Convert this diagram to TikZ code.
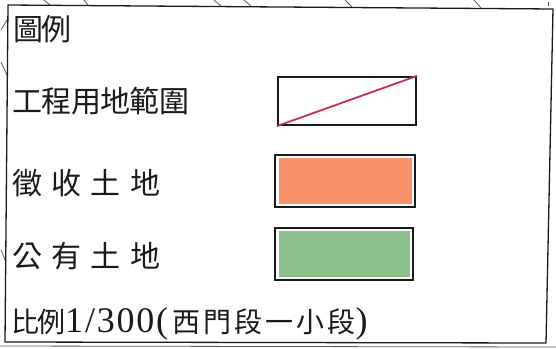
\documentclass[tikz,border=0pt]{standalone}
\usepackage{fontspec}
\newfontfamily\cjk{Noto Sans CJK TC}
\newfontfamily\serifdig{Liberation Serif}
\definecolor{inkcol}{HTML}{1A1A1A}
\definecolor{redline}{HTML}{C4314F}
\definecolor{orangefill}{HTML}{F6916A}
\definecolor{greenfill}{HTML}{8CC08C}
\begin{document}
\begin{tikzpicture}[x=1pt,y=-1pt,
  lbl/.style={anchor=west, inner sep=0pt, text=inkcol, font=\cjk\fontsize{30}{32}\selectfont},
  scalelbl/.style={anchor=west, inner sep=0pt, text=inkcol, font=\cjk\fontsize{28}{30}\selectfont},
  legbox/.style={draw=inkcol, line width=2.2pt, inner sep=0pt},
  fillbox/.style={inner sep=0pt, draw=none},
  frameline/.style={draw=inkcol, line width=1.3pt},
  sketch/.style={draw=black!65, line width=0.8pt},
  redstroke/.style={draw=redline, line width=1.8pt}]
\useasboundingbox (0,0) rectangle (556,348);
% background sketch strokes in margins
\draw[sketch] (44,0) -- (50,5);
\draw[sketch] (84,0) -- (88,5);
\draw[sketch] (214,0) -- (221,6);
\draw[sketch] (244,0) -- (251,6);
\draw[sketch] (345,0) -- (352,7);
\draw[sketch] (474,0) -- (481,8);
\draw[sketch] (548,2) -- (548,6);
\draw[sketch] (7,20) -- (1,30);
\draw[sketch] (1,62) -- (7,75);
\draw[sketch] (1,250) -- (6,262);
% frame
\draw[frameline] (8,5) -- (553,9) -- (546,343) -- (5,342) -- cycle;
\draw[sketch] (0,346) -- (556,347);
% labels
\node[lbl] (t0) at (13,29) {\addfontfeature{LetterSpace=-7}圖例};
\node[lbl] (t1) at (12,101) {\addfontfeature{LetterSpace=-2}工程用地範圍};
\node[lbl] (t2) at (12,183) {\addfontfeature{LetterSpace=31}徵收土地};
\node[lbl] (t3) at (12,256) {\addfontfeature{LetterSpace=31}公有土地};
\node[scalelbl] (t4) at (11,324) {\addfontfeature{LetterSpace=-7}比例{\serifdig\fontsize{36}{38}\selectfont\addfontfeature{LetterSpace=5}1/300(}\hspace{4pt}{\addfontfeature{LetterSpace=11}西門段一小段}{\serifdig\fontsize{36}{38}\selectfont)}};
% legend boxes
\node[legbox, minimum width=138pt, minimum height=48pt] (b1) at (347,101) {};
\draw[redstroke] (b1.south west) -- (b1.north east);
\node[fillbox, fill=orangefill, minimum width=133pt, minimum height=46pt] (f2) at (345,181) {};
\node[legbox, minimum width=140pt, minimum height=52pt] (b2) at (345,181) {};
\node[fillbox, fill=greenfill, minimum width=131pt, minimum height=46pt] (f3) at (344,254) {};
\node[legbox, minimum width=138pt, minimum height=52pt] (b3) at (344,254) {};
\end{tikzpicture}
\end{document}
